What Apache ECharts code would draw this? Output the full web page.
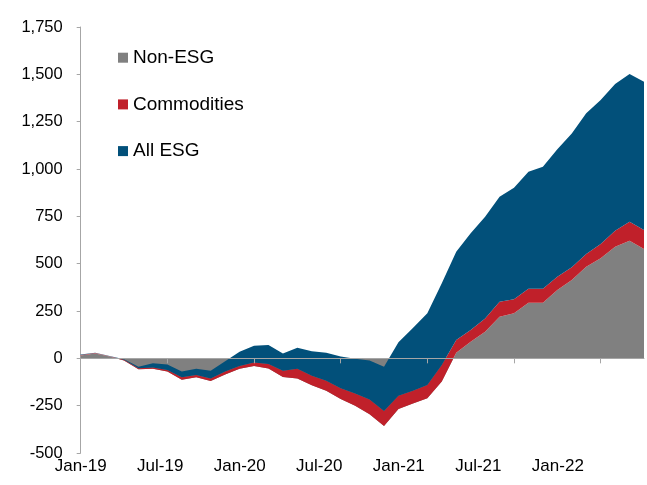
<!DOCTYPE html>
<html>
<head>
<meta charset="utf-8">
<script src="https://cdn.jsdelivr.net/npm/echarts@6/dist/echarts.min.js"></script>
<style>
    html, body { margin: 0; padding: 0; background: #fff; }
    #main { width: 647px; height: 485px; }
</style>
</head>
<body>
<div id="main"></div>
<script>
// cumulative flows (one point per period)
var non_esg = [15, 25, 10, -12, -58, -55, -70, -113, -100, -120,
    -85, -55, -40, -54, -98, -106, -142, -171, -215, -250,
    -295, -357, -268, -238, -211, -123, 30, 88, 141, 220,
    238, 294, 294, 361, 414, 484, 528, 590, 621, 577];
var commodities = [3, 3, 1, 4, 6, 7, 8, 13, 12, 14,
    15, 15, 18, 24, 32, 51, 50, 53, 57, 64,
    78, 79, 71, 67, 70, 88, 67, 62, 70, 79,
    74, 74, 74, 70, 67, 67, 76, 84, 101, 101];
var all_esg = [2, 2, 1, 3, 7, 22, 30, 30, 33, 41,
    55, 75, 89, 100, 92, 111, 129, 148, 168, 184,
    205, 234, 282, 331, 379, 431, 466, 510, 537, 555,
    589, 618, 644, 673, 707, 743, 760, 775, 780, 783];
var series_names = ["Non-ESG", "Commodities", "All ESG"];
var series_colors = ["#808080", "#C0202A", "#02507A"];
var tick_labels = ["Jan-19", "Jul-19", "Jan-20", "Jul-20", "Jan-21", "Jul-21", "Jan-22"];

var CHART = {
    init: function(){
        var _this = this;
        var periods = [];
        for (var i = 0; i < non_esg.length; i++) periods.push(String(i + 1));
        var myChart = echarts.init(document.getElementById("main"));
        myChart.setOption(_this.init_option(periods, [non_esg, commodities, all_esg]));
    },
    init_option: function(periods, values){
        var series = [];
        for (var i = 0; i < values.length; i++){
            series.push({
                name: series_names[i],
                type: 'line',
                stack: 'total',
                stackStrategy: 'all',
                showSymbol: false,
                symbol: 'none',
                lineStyle: { width: 0, opacity: 0 },
                areaStyle: { color: series_colors[i], opacity: 1 },
                itemStyle: { color: series_colors[i] },
                data: values[i]
            });
        }
        return {
            animation: false,
            textStyle: { fontFamily: "Liberation Sans, Arial, sans-serif" },
            grid: { left: 80.7, right: 0, top: 27, bottom: 32, containLabel: false },
            legend: {
                orient: 'vertical',
                left: 113,
                top: 42.7,
                itemWidth: 10,
                itemHeight: 10,
                itemGap: 26.7,
                icon: 'rect',
                selectedMode: false,
                textStyle: { fontSize: 19, color: '#000', lineHeight: 20 },
                data: series_names
            },
            xAxis: [
                {
                    type: 'category',
                    data: periods,
                    boundaryGap: false,
                    z: 10,
                    axisLine: { onZero: true, lineStyle: { color: '#a6a6a6', width: 1 } },
                    axisTick: { show: true, interval: 5, length: 5, lineStyle: { color: '#a6a6a6' } },
                    axisLabel: { show: false },
                    splitLine: { show: false }
                },
                {
                    // label axis: six months per label
                    type: 'value',
                    position: 'bottom',
                    min: 0,
                    max: 42.5,
                    interval: 6,
                    axisLine: { show: false, onZero: false },
                    axisTick: { show: false },
                    splitLine: { show: false },
                    axisLabel: {
                        fontSize: 17,
                        color: '#000',
                        margin: 5,
                        formatter: function(v){
                            var k = v / 6;
                            return (k % 1 === 0 && k < tick_labels.length) ? tick_labels[k] : '';
                        }
                    }
                }
            ],
            yAxis: {
                type: 'value',
                min: -500,
                max: 1750,
                interval: 250,
                axisLine: { show: true, lineStyle: { color: '#a6a6a6', width: 1 } },
                axisTick: { show: true, length: 4, lineStyle: { color: '#a6a6a6' } },
                splitLine: { show: false },
                axisLabel: {
                    fontSize: 16.5,
                    color: '#000',
                    margin: 18,
                    formatter: function(v){
                        return v.toString().replace(/\B(?=(\d{3})+(?!\d))/g, ",");
                    }
                }
            },
            series: series
        };
    }
};

CHART.init();
</script>
</body>
</html>
